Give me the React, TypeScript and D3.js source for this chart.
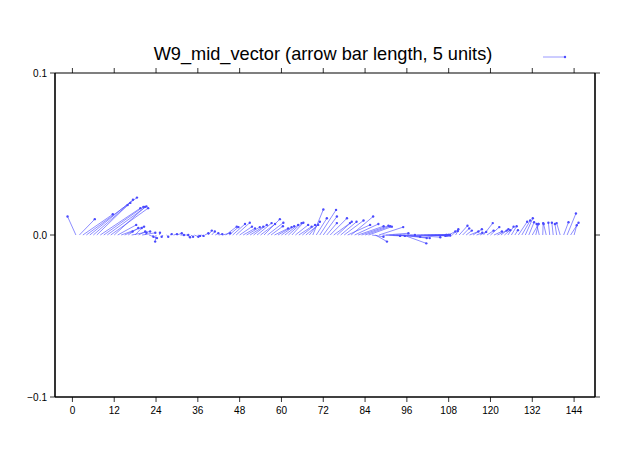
import React from "react";
import * as d3 from "d3";

const title = "W9_mid_vector (arrow bar length, 5 units)";
const legendUnits = 5;

const hours = [
  1, 2, 3, 4, 5, 6, 7, 8, 9, 10, 11, 12, 13, 14, 15, 16, 17, 18, 19, 20,
  21, 22, 23, 24, 25, 26, 27, 28, 29, 30, 31, 32, 33, 34, 35, 36, 37, 38, 39, 40,
  41, 42, 43, 44, 45, 46, 47, 48, 49, 50, 51, 52, 53, 54, 55, 56, 57, 58, 59, 60,
  61, 62, 63, 64, 65, 66, 67, 68, 69, 70, 71, 72, 73, 74, 75, 76, 77, 78, 79, 80,
  81, 82, 83, 84, 85, 86, 87, 88, 89, 90, 91, 92, 93, 94, 95, 96, 97, 98, 99, 100,
  101, 102, 103, 104, 105, 106, 107, 108, 109, 110, 111, 112, 113, 114, 115, 116, 117, 118, 119, 120,
  121, 122, 123, 124, 125, 126, 127, 128, 129, 130, 131, 132, 133, 134, 135, 136, 137, 138, 139, 140,
  141, 142, 143, 144,
];

// east-west component (units)
const uComp = [
  -1.9, 3.5, 6.8, 11.5, 9.8, 8.4, 7.0, 9.1, 9.0, 8.9, 8.5, 7.0, 4.2, 5.2, 1.8, 2.3, 4.2, 1.5, 1.5, 3.0,
  0.2, 1.8, 0.2, -0.2, 0.1, -0.3, 0.4, 0.4, 0.8, 1.1, 0.8, 1.0, 0.6, 0.5, 0.9, 0.5, 0.5, 0.8, 0.8, 0.7,
  0.7, 0.8, 1.8, 2.5, 2.1, 2.8, 3.1, 2.8, 2.7, 3.0, 3.0, 3.0, 3.3, 3.3, 3.6, 3.6, 2.7, 3.1, 3.1, 2.9,
  3.0, 3.0, 2.6, 2.9, 2.9, 2.9, 2.8, 2.4, 2.4, 2.4, 3.7, 3.1, 2.3, 3.8, 3.7, 3.3, 3.6, 4.4, 5.1, 5.0,
  5.4, 5.8, 6.1, 5.7, 5.3, 2.6, 2.6, 5.5, 4.0, 5.1, 3.5, 5.0, 5.4, 6.1, 5.2, 5.2, 6.8, 8.2, 6.4, 6.1,
  5.9, 5.0, 3.9, 2.5, 1.8, 1.1, 0.7, 1.5, 1.4, 0.5, 1.9, 1.5, 1.3, 2.0, 2.0, 1.3, 1.4, 2.1, 1.5, 2.0,
  1.8, 2.1, 1.7, 1.3, 1.3, 1.2, 0.7, 2.0, 1.9, 1.7, 1.2, 1.4, 0.6, -0.6, 0.1, -0.6, -0.3, -0.3, -0.4, -0.8,
  1.1, 2.0, 1.8, 0.6,
];

// north-south component (units)
const vComp = [
  4.2, 3.6, 4.7, 8.5, 8.0, 7.3, 6.8, 6.1, 6.4, 6.5, 6.1, 6.4, 2.3, 1.9, 0.8, 1.6, 0.8, 1.6, 0.8, 0.5,
  0.5, -0.7, -0.4, -1.5, 0.5, -0.4, -0.4, 0.2, 0.2, 0.4, 0.0, 0.0, -0.5, -0.4, -0.4, -0.2, -0.2, 0.4, 1.0, 0.8,
  0.4, 0.2, 0.4, 1.9, 1.8, 2.5, 2.8, 1.9, 1.5, 1.8, 1.9, 2.3, 2.7, 2.5, 3.6, 2.8, 2.0, 1.5, 1.8, 2.0,
  2.3, 2.7, 2.8, 2.3, 1.9, 2.3, 2.3, 3.0, 5.8, 3.8, 5.7, 4.2, 2.7, 3.8, 2.7, 3.0, 3.0, 3.3, 2.3, 4.2,
  2.5, 2.0, 2.1, 2.0, 1.9, -0.4, -1.5, 1.8, -0.2, 0.4, -0.2, 0.0, -0.4, -0.7, -1.9, -0.7, -0.5, 0.0, -0.2, -0.1,
  -0.1, 0.0, 0.0, -0.1, 0.0, 0.0, 0.0, 0.8, 1.3, 0.9, 2.1, 1.5, 1.0, 0.8, 1.3, 0.5, 0.7, 2.7, 1.0, 1.8,
  0.8, 1.0, 1.3, 1.1, 1.9, 2.0, 1.1, 3.0, 3.3, 3.8, 2.9, 2.5, 2.5, 2.5, 2.7, 2.5, 2.8, 2.8, 2.5, 2.7,
  2.9, 4.9, 2.8, 2.2,
];

const xTicks = [0, 12, 24, 36, 48, 60, 72, 84, 96, 108, 120, 132, 144];
const yTicks = [-0.1, 0.0, 0.1];
const yTickLabels = ["\u22120.1", "0.0", "0.1"];

const FONT = "'Liberation Sans', Arial, Helvetica, sans-serif";
const VCOL = "#4a4aff";

export default function App() {
  const W = 640;
  const H = 452;
  const left = 55, right = 595, top = 73, bottom = 397;
  const x = d3.scaleLinear().domain([-5, 150]).range([left, right]);
  const y = d3.scaleLinear().domain([-0.1, 0.1]).range([bottom, top]);
  // arrow length scale: 5 units = 22 px
  const len = d3.scaleLinear().domain([0, legendUnits]).range([0, 22]);
  const y0 = y(0);

  const vectors = hours.map((h, i) => {
    const x1 = x(h);
    const x2 = x1 + len(uComp[i]);
    const y2 = y0 - len(vComp[i]);
    return { x1, x2, y2 };
  });

  const legX = 543;
  const legY = 57;

  return (
    <svg
      width={W}
      height={H}
      style={{ position: "absolute", left: 0, top: 0, background: "#fff" }}
      fontFamily={FONT}
    >
      <rect x={0} y={0} width={W} height={H} fill="#fff" />
      <text x={323} y={60} textAnchor="middle" fontSize={18.2} fill="#000">
        {title}
      </text>

      {/* legend arrow */}
      <line x1={legX} y1={legY} x2={legX + len(legendUnits)} y2={legY} stroke="#9a9aff" strokeWidth={1} />
      <circle cx={legX + len(legendUnits)} cy={legY} r={1.2} fill={VCOL} />

      {/* vectors */}
      <g>
        {vectors.map((d, i) => (
          <line key={"l" + i} x1={d.x1} y1={y0} x2={d.x2} y2={d.y2} stroke={VCOL} strokeWidth={0.7} strokeOpacity={0.9} />
        ))}
        {vectors.map((d, i) => (
          <circle key={"c" + i} cx={d.x2} cy={d.y2} r={1.2} fill={VCOL} />
        ))}
      </g>

      {/* frame */}
      <line x1={left} y1={top} x2={right} y2={top} stroke="#000" strokeWidth={1.2} />
      <line x1={left} y1={bottom} x2={right} y2={bottom} stroke="#000" strokeWidth={1.6} />
      <line x1={left} y1={top} x2={left} y2={bottom} stroke="#000" strokeWidth={1.6} />
      <line x1={right} y1={top} x2={right} y2={bottom} stroke="#000" strokeWidth={1.6} />

      {/* x ticks */}
      {xTicks.map((t) => (
        <g key={"xt" + t}>
          <line x1={x(t)} y1={bottom} x2={x(t)} y2={bottom + 5} stroke="#000" strokeWidth={0.8} />
          <line x1={x(t)} y1={top} x2={x(t)} y2={top - 5} stroke="#000" strokeWidth={0.8} />
          <text x={x(t)} y={bottom + 17} textAnchor="middle" fontSize={10} fill="#000">
            {t}
          </text>
        </g>
      ))}

      {/* y ticks */}
      {yTicks.map((t, i) => (
        <g key={"yt" + i}>
          <line x1={left - 5} y1={y(t)} x2={left} y2={y(t)} stroke="#000" strokeWidth={0.8} />
          <line x1={right} y1={y(t)} x2={right + 5} y2={y(t)} stroke="#000" strokeWidth={0.8} />
          <text x={left - 8} y={y(t) + 3.5} textAnchor="end" fontSize={10} fill="#000">
            {yTickLabels[i]}
          </text>
        </g>
      ))}
    </svg>
  );
}
